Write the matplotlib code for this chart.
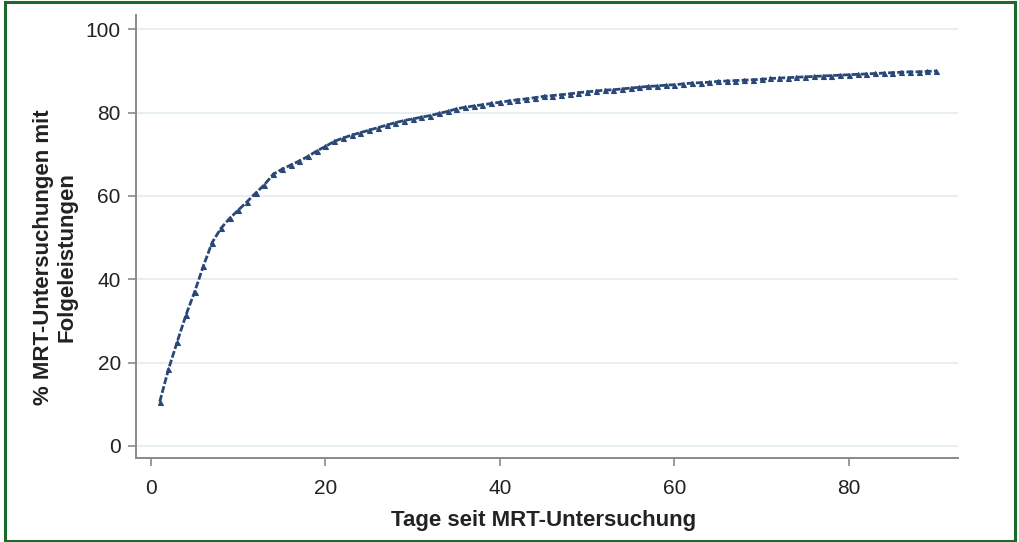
import matplotlib
matplotlib.use('Agg')
from matplotlib import pyplot as plt
from matplotlib.patches import Rectangle

# Daten: Anteil MRT-Untersuchungen mit Folgeleistungen nach Tagen
tage = list(range(1, 91))
anteil = [
    10.6, 18.4, 25.0, 31.4, 37.0, 43.2, 48.8, 52.2, 54.6, 56.6,
    58.6, 60.7, 62.7, 65.2, 66.4, 67.4, 68.4, 69.5, 70.8, 71.9,
    73.1, 73.9, 74.6, 75.2, 75.8, 76.4, 77.0, 77.6, 78.1, 78.5,
    78.9, 79.3, 79.8, 80.3, 80.9, 81.3, 81.6, 81.9, 82.2, 82.5,
    82.8, 83.1, 83.3, 83.6, 83.9, 84.1, 84.3, 84.5, 84.8, 85.0,
    85.2, 85.4, 85.5, 85.7, 85.9, 86.1, 86.3, 86.4, 86.6, 86.7,
    86.9, 87.1, 87.2, 87.3, 87.5, 87.6, 87.7, 87.8, 87.9, 88.0,
    88.2, 88.3, 88.4, 88.5, 88.6, 88.7, 88.8, 88.9, 89.0, 89.1,
    89.2, 89.3, 89.4, 89.5, 89.6, 89.7, 89.8, 89.8, 89.9, 90.0,
]
yticks = [0, 20, 40, 60, 80, 100]
xticks = [0, 20, 40, 60, 80]

plt.rcParams['font.family'] = ['Liberation Sans', 'DejaVu Sans']

fig = plt.figure(figsize=(10.19, 5.42), dpi=100)
ax = fig.add_axes([0.1335, 0.155, 0.8065, 0.817])

ax.plot(tage, anteil, color='#2a4877', linewidth=2.0, linestyle=(0, (2.5, 0.8)),
        marker='^', markersize=3.6, markeredgewidth=0.8, zorder=3)

ax.set_xlim(-1.72, 92.5)
ax.set_ylim(-2.9, 103.4)
ax.set_yticks(yticks)
ax.set_xticks(xticks)
ax.grid(axis='y', color='#e2edef', linewidth=1.2, zorder=0)

for side in ['top', 'right']:
    ax.spines[side].set_visible(False)
for side in ['left', 'bottom']:
    ax.spines[side].set_color('#8a8a8a')
    ax.spines[side].set_linewidth(1.4)
ax.tick_params(axis='both', colors='#8a8a8a', length=6, width=1.2,
               labelsize=15, labelcolor='#222222', pad=5)
ax.tick_params(axis='x', pad=9)

ax.set_xlabel('Tage seit MRT-Untersuchung', fontsize=16, fontweight='bold',
              color='#222222')
ax.xaxis.set_label_coords(0.496, -0.117)
ax.set_ylabel('% MRT-Untersuchungen mit\nFolgeleistungen', fontsize=16,
              fontweight='bold', color='#222222', linespacing=1.15)
ax.yaxis.set_label_coords(-0.071, 0.454)

# gruener Rahmen
fig.patches.append(Rectangle((5 / 1019, 1.5 / 542), 1010 / 1019, 539 / 542,
                             transform=fig.transFigure, fill=False,
                             edgecolor='#1b6a2c', linewidth=2.2))

fig.savefig('out.png', dpi=100)
